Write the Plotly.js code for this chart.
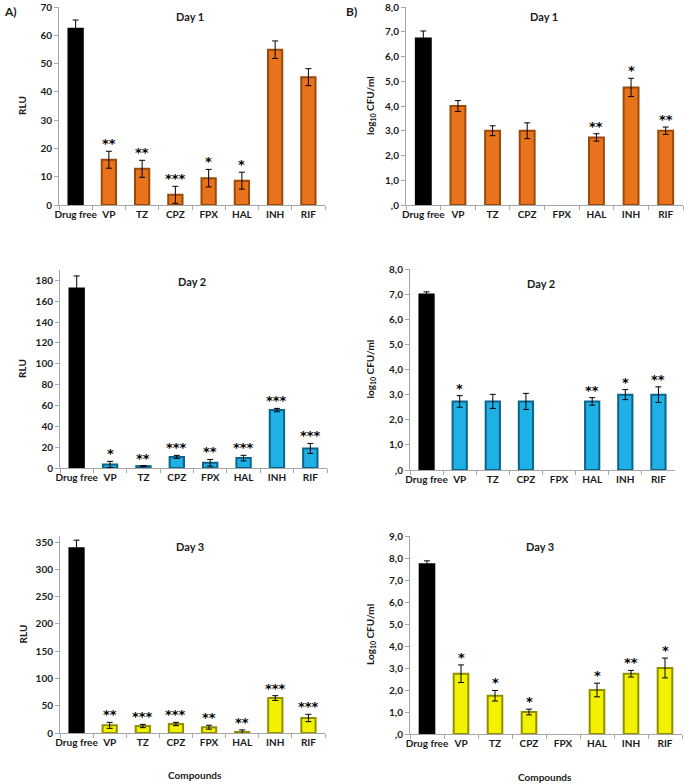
<!DOCTYPE html>
<html>
<head>
<meta charset="utf-8">
<script src="https://cdn.plot.ly/plotly-3.0.1.min.js"></script>
<style>
  body { margin: 0; background: #fff; }
  #plot { width: 684px; height: 784px; }
</style>
</head>
<body>
<div id="plot"></div>
<script>
// compounds on the x axis
var compounds = ['Drug free', 'VP', 'TZ', 'CPZ', 'FPX', 'HAL', 'INH', 'RIF'];

// A) luminescence (RLU)
var rluDay1 = [62.3, 16.0, 12.8, 3.6, 9.5, 8.6, 54.9, 45.2];
var rluDay1Err = [3.1, 3.0, 3.0, 3.0, 3.1, 3.0, 3.1, 3.0];
var rluDay1Sig = ['', '**', '**', '***', '*', '*', '', ''];

var rluDay2 = [172.3, 3.4, 1.8, 10.6, 5.0, 9.5, 55.6, 18.8];
var rluDay2Err = [12.0, 3.0, 0.6, 1.5, 3.2, 2.7, 1.6, 4.8];
var rluDay2Sig = ['', '*', '**', '***', '**', '***', '***', '***'];

var rluDay3 = [338.4, 14.0, 12.8, 16.5, 10.6, 2.0, 64.0, 27.5];
var rluDay3Err = [15.0, 5.5, 3.0, 3.0, 3.6, 3.7, 4.4, 6.7];
var rluDay3Sig = ['', '**', '***', '***', '**', '**', '***', '***'];

// B) viable counts (log10 CFU/ml), FPX gave no count
var cfuDay1 = [6.73, 4.0, 3.0, 3.0, null, 2.73, 4.75, 3.0];
var cfuDay1Err = [0.3, 0.22, 0.2, 0.32, null, 0.15, 0.37, 0.15];
var cfuDay1Sig = ['', '', '', '', '', '**', '*', '**'];

var cfuDay2 = [6.99, 2.73, 2.73, 2.73, null, 2.73, 3.0, 3.0];
var cfuDay2Err = [0.1, 0.23, 0.28, 0.32, null, 0.15, 0.2, 0.31];
var cfuDay2Sig = ['', '*', '', '', '', '**', '*', '**'];

var cfuDay3 = [7.72, 2.74, 1.74, 1.0, null, 2.0, 2.74, 3.0];
var cfuDay3Err = [0.15, 0.4, 0.24, 0.13, null, 0.31, 0.15, 0.45];
var cfuDay3Sig = ['', '*', '*', '*', '', '*', '**', '*'];

var cfuTicks = [0, 1, 2, 3, 4, 5, 6, 7, 8, 9];
var cfuTickText = [',0', '1,0', '2,0', '3,0', '4,0', '5,0', '6,0', '7,0', '8,0', '9,0'];

var FONT = 'Lato, "Open Sans", sans-serif';
var TXT = '#1a1a1a';
var AXIS = '#a6a6a6';

var dayColors = [
  { fill: '#e8731c', edge: '#9a4a0a' },
  { fill: '#1fb0e6', edge: '#0b6488' },
  { fill: '#f2f200', edge: '#8f8f00' }
];

var panels = [
  { vals: rluDay1, err: rluDay1Err, sig: rluDay1Sig, day: 0, range: [0, 70], dtick: 10, ytitle: 'RLU',
    x: [59, 325], y: [7, 205], title: 'Day 1', titleX: 190, titleY: 17 },
  { vals: cfuDay1, err: cfuDay1Err, sig: cfuDay1Sig, day: 0, range: [0, 8], ytitle: 'log<sub>10</sub> CFU/ml',
    x: [406, 683], y: [7, 205], title: 'Day 1', titleX: 544, titleY: 17 },
  { vals: rluDay2, err: rluDay2Err, sig: rluDay2Sig, day: 1, range: [0, 190], dtick: 20, ytitle: 'RLU',
    x: [60, 327], y: [270, 468], title: 'Day 2', titleX: 192, titleY: 281 },
  { vals: cfuDay2, err: cfuDay2Err, sig: cfuDay2Sig, day: 1, range: [0, 8], ytitle: 'log<sub>10</sub> CFU/ml',
    x: [410, 675], y: [269, 470], title: 'Day 2', titleX: 541, titleY: 283 },
  { vals: rluDay3, err: rluDay3Err, sig: rluDay3Sig, day: 2, range: [0, 361], dtick: 50, ytitle: 'RLU',
    x: [60, 325], y: [536, 733], title: 'Day 3', titleX: 190, titleY: 546 },
  { vals: cfuDay3, err: cfuDay3Err, sig: cfuDay3Sig, day: 2, range: [0, 9], ytitle: 'Log<sub>10</sub> CFU/ml',
    x: [410, 682], y: [536, 734], title: 'Day 3', titleX: 540, titleY: 546 }
];

var W = 684, H = 784;
function px(x) { return x / W; }
function py(y) { return 1 - y / H; }

var data = [];
var layout = {
  width: W, height: H,
  margin: { l: 0, r: 0, t: 0, b: 0 },
  paper_bgcolor: '#fff', plot_bgcolor: '#fff',
  showlegend: false,
  bargap: 0.57,
  font: { family: FONT, color: TXT, size: 10, weight: 'bold' },
  annotations: []
};

panels.forEach(function(p, i) {
  var n = i + 1;
  var xa = 'x' + (n === 1 ? '' : n), ya = 'y' + (n === 1 ? '' : n);
  var col = dayColors[p.day];
  var fills = compounds.map(function(c, k) { return k === 0 ? '#000' : col.fill; });
  var edges = compounds.map(function(c, k) { return k === 0 ? '#000' : col.edge; });

  data.push({
    type: 'bar', x: compounds, y: p.vals, xaxis: xa, yaxis: ya,
    marker: { color: fills, line: { color: edges, width: 2 } },
    error_y: { type: 'data', array: p.err, visible: true, color: '#000', thickness: 1, width: 3 },
    hoverinfo: 'x+y'
  });

  var xName = 'xaxis' + (n === 1 ? '' : n), yName = 'yaxis' + (n === 1 ? '' : n);
  layout[xName] = {
    domain: [px(p.x[0]), px(p.x[1])], anchor: ya,
    type: 'category', range: [-0.5, 7.5],
    showline: true, linecolor: AXIS, linewidth: 1,
    ticks: 'outside', tickson: 'boundaries', ticklen: 4, tickcolor: AXIS,
    tickangle: 0,
    showgrid: false, zeroline: false,
    tickfont: { family: FONT, size: 10, color: TXT, weight: 'bold' }
  };
  var yax = {
    domain: [py(p.y[1]), py(p.y[0])], anchor: xa,
    range: p.range,
    showline: true, linecolor: AXIS, linewidth: 1,
    ticks: 'outside', ticklen: 4, tickcolor: AXIS,
    showgrid: false, zeroline: false,
    tickfont: { family: FONT, size: 10, color: TXT, weight: 'bold' }
  };
  if (p.dtick) {
    yax.dtick = p.dtick; yax.tick0 = 0;
  } else {
    var top = p.range[1];
    yax.tickmode = 'array';
    yax.tickvals = cfuTicks.filter(function(v) { return v <= top; });
    yax.ticktext = cfuTickText.slice(0, yax.tickvals.length);
  }
  layout[yName] = yax;

  // panel title
  layout.annotations.push({
    xref: 'paper', yref: 'paper', x: px(p.titleX), y: py(p.titleY),
    text: p.title, showarrow: false, xanchor: 'center', yanchor: 'middle',
    font: { family: FONT, size: 11, color: TXT, weight: 'bold' }
  });
  // y axis title
  layout.annotations.push({
    xref: 'paper', yref: 'paper',
    x: px(i % 2 === 0 ? 22 : 370), y: py((p.y[0] + p.y[1]) / 2),
    text: p.ytitle, textangle: -90, showarrow: false,
    xanchor: 'center', yanchor: 'middle',
    font: { family: FONT, size: 10, color: TXT, weight: 'bold' }
  });
  // significance stars
  p.sig.forEach(function(s, k) {
    if (!s) return;
    layout.annotations.push({
      xref: xa, yref: ya, x: compounds[k], y: p.vals[k] + p.err[k],
      text: s, showarrow: false, xanchor: 'center', yanchor: 'bottom', yshift: -2,
      font: { family: '"DejaVu Sans", sans-serif', size: 13, color: '#000' }
    });
  });
});

// panel letters and shared x titles
layout.annotations.push(
  { xref: 'paper', yref: 'paper', x: px(2), y: py(12), text: 'A)', showarrow: false,
    xanchor: 'left', yanchor: 'middle', font: { family: FONT, size: 12, color: TXT, weight: 'bold' } },
  { xref: 'paper', yref: 'paper', x: px(344), y: py(12), text: 'B)', showarrow: false,
    xanchor: 'left', yanchor: 'middle', font: { family: FONT, size: 12, color: TXT, weight: 'bold' } },
  { xref: 'paper', yref: 'paper', x: px(195), y: py(775), text: 'Compounds', showarrow: false,
    xanchor: 'center', yanchor: 'middle', font: { family: FONT, size: 10, color: TXT, weight: 'bold' } },
  { xref: 'paper', yref: 'paper', x: px(545), y: py(777), text: 'Compounds', showarrow: false,
    xanchor: 'center', yanchor: 'middle', font: { family: FONT, size: 10, color: TXT, weight: 'bold' } }
);

Plotly.newPlot('plot', data, layout, { displayModeBar: false, staticPlot: true });
</script>
</body>
</html>
